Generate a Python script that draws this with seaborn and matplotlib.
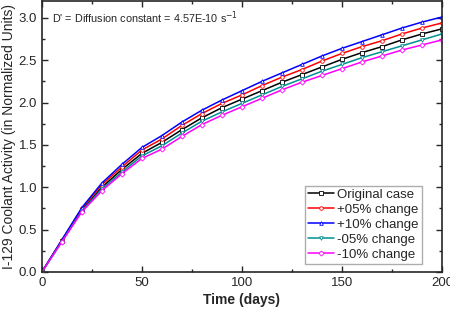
import pandas as pd
import seaborn as sns
import matplotlib.pyplot as plt
from matplotlib.ticker import MultipleLocator

# time axis (days)
days = [0, 10, 20, 30, 40, 50, 60, 70, 80, 90, 100,
        110, 120, 130, 140, 150, 160, 170, 180, 190, 200]

# coolant activity
original = [0, 0.37, 0.73, 1.00, 1.21, 1.40, 1.53, 1.68, 1.82, 1.94, 2.04,
            2.14, 2.24, 2.33, 2.42, 2.51, 2.59, 2.66, 2.74, 2.81, 2.87]
plus05 = [0, 0.375, 0.75, 1.03, 1.24, 1.44, 1.57, 1.73, 1.87, 1.99, 2.09,
          2.20, 2.30, 2.39, 2.49, 2.58, 2.66, 2.73, 2.81, 2.88, 2.94]
plus10 = [0, 0.38, 0.76, 1.05, 1.27, 1.47, 1.61, 1.77, 1.91, 2.03, 2.14,
          2.25, 2.35, 2.45, 2.55, 2.64, 2.72, 2.80, 2.88, 2.95, 3.01]
minus05 = [0, 0.36, 0.72, 0.98, 1.18, 1.37, 1.49, 1.64, 1.78, 1.89, 1.99,
           2.09, 2.19, 2.28, 2.37, 2.45, 2.53, 2.60, 2.67, 2.74, 2.81]
minus10 = [0, 0.355, 0.71, 0.96, 1.16, 1.34, 1.45, 1.60, 1.74, 1.85, 1.95,
           2.05, 2.15, 2.24, 2.32, 2.40, 2.48, 2.55, 2.62, 2.68, 2.74]

labels = ["Original case", "+05% change", "+10% change", "-05% change", "-10% change"]
colors = ["black", "red", "blue", "#009090", "magenta"]
markers = ["s", "o", "^", "v", "D"]

df = pd.DataFrame({"days": days})
for name, vals in zip(labels, [original, plus05, plus10, minus05, minus10]):
    df[name] = vals
long_df = df.melt(id_vars="days", var_name="case", value_name="activity")

sns.set_theme(style="ticks")
plt.rcParams['font.family'] = ['Liberation Sans', 'DejaVu Sans']
plt.rcParams['xtick.direction'] = 'in'
plt.rcParams['ytick.direction'] = 'in'

fig = plt.figure(figsize=(4.5, 3.13), dpi=100)
ax = fig.add_axes([0.093, 0.131, 0.889, 0.866])

for name, col, mk in zip(labels, colors, markers):
    sub = long_df[long_df["case"] == name]
    sns.lineplot(data=sub, x="days", y="activity", ax=ax, color=col,
                 marker=mk, markersize=2.6, markerfacecolor="white",
                 markeredgecolor=col, markeredgewidth=0.6,
                 linewidth=1.1, label=name)

ax.set_xlim(0, 200)
ax.set_ylim(0, 3.2)
ax.xaxis.set_major_locator(MultipleLocator(50))
ax.xaxis.set_minor_locator(MultipleLocator(25))
ax.yaxis.set_major_locator(MultipleLocator(0.5))
ax.yaxis.set_minor_locator(MultipleLocator(0.25))
ax.tick_params(which="both", top=True, right=True, labelsize=9.5, width=1)
ax.tick_params(which="major", length=4)
ax.tick_params(which="minor", length=2.5)
for s in ax.spines.values():
    s.set_linewidth(1.2)

ax.set_xlabel("Time (days)", fontsize=10, fontweight="bold", labelpad=3)
ax.set_ylabel("I-129 Coolant Activity (in Normalized Units)", fontsize=10, labelpad=2)
ax.text(0.025, 0.94, "D' = Diffusion constant = 4.57E-10 s$^{-1}$",
        transform=ax.transAxes, fontsize=7.8, va="center")

leg = ax.legend(loc="lower right", bbox_to_anchor=(0.95, 0.03), borderaxespad=0,
                fontsize=9.5, handlelength=2.0, borderpad=0.25,
                labelspacing=0.2, handletextpad=0.2, fancybox=False)
leg.get_frame().set_edgecolor("#999999")

plt.savefig("out.png", dpi=100)
plt.close()
